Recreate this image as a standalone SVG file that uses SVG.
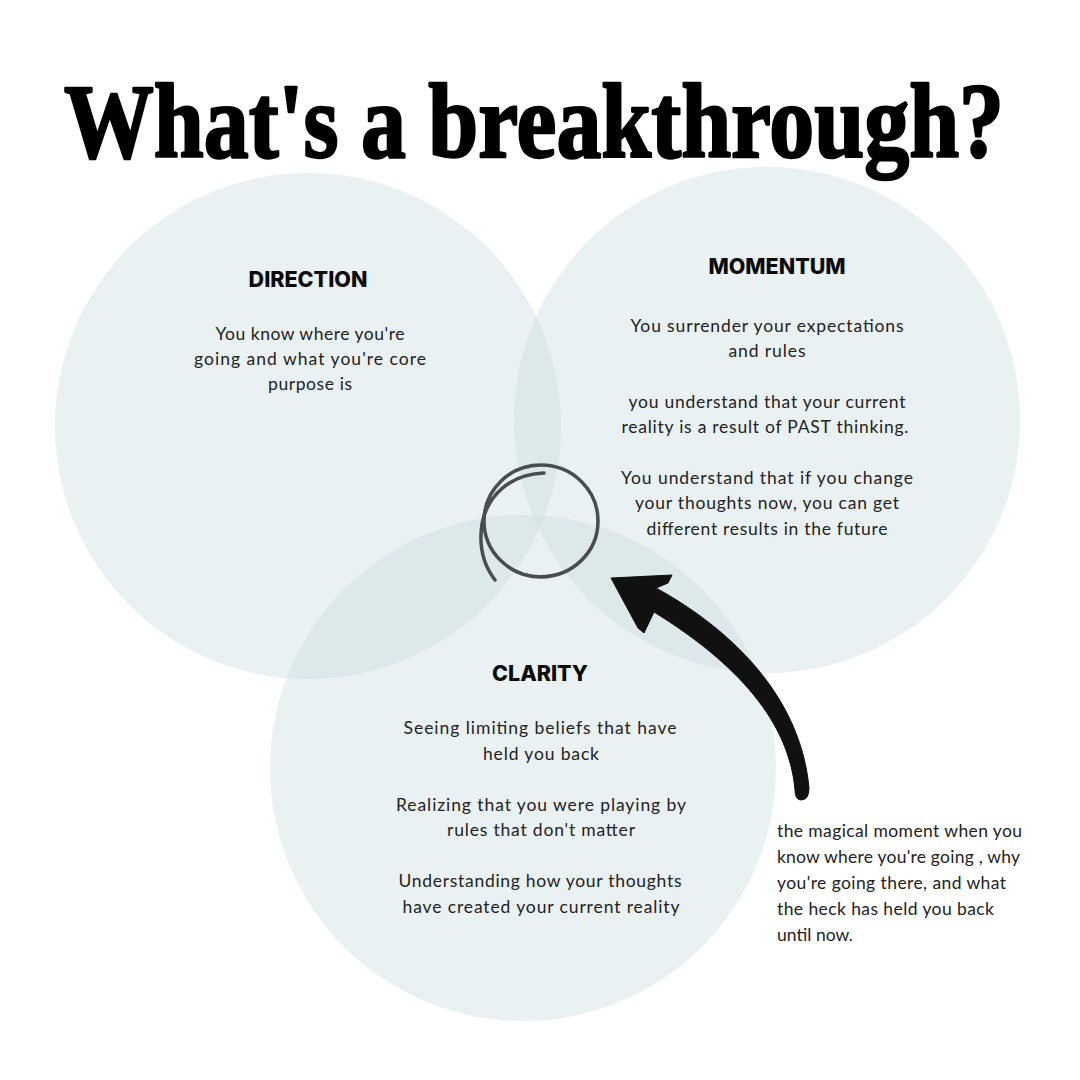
<svg xmlns="http://www.w3.org/2000/svg" width="1080" height="1080" viewBox="0 0 1080 1080">
<style>
.disc{fill:#c6d8da;fill-opacity:0.36}
.head{font-family:"Inter","Liberation Sans",sans-serif;font-weight:800;font-size:21.5px;fill:#0a0a0a;text-anchor:middle}
.body{font-family:"Lato","Liberation Sans",sans-serif;font-size:17.5px;fill:#222;text-anchor:middle}
.note{font-family:"Lato","Liberation Sans",sans-serif;font-size:17.5px;fill:#222}
.title{font-family:"Liberation Serif","DejaVu Serif",serif;font-weight:bold;font-size:106px;fill:#000;stroke:#000;stroke-width:2.5;stroke-linejoin:round}
</style>
<rect width="1080" height="1080" fill="#fff"/>
<g id="title">
<text class="title" x="64" y="157" textLength="940" lengthAdjust="spacingAndGlyphs">What's a breakthrough?</text>
</g>
<g id="direction">
<circle class="disc" cx="308" cy="426" r="253"/>
<text class="head" x="308" y="287">DIRECTION</text>
<text class="body" x="310" y="340" textLength="189" lengthAdjust="spacing">You know where you're</text>
<text class="body" x="310" y="365" textLength="232" lengthAdjust="spacing">going and what you're core</text>
<text class="body" x="310" y="390" textLength="84" lengthAdjust="spacing">purpose is</text>
</g>
<g id="momentum">
<circle class="disc" cx="767" cy="420" r="253"/>
<text class="head" x="777" y="274">MOMENTUM</text>
<text class="body" x="767" y="332" textLength="273" lengthAdjust="spacing">You surrender your expectations</text>
<text class="body" x="767" y="357" textLength="77" lengthAdjust="spacing">and rules</text>
<text class="body" x="767" y="408" textLength="277" lengthAdjust="spacing">you understand that your current</text>
<text class="body" x="765" y="433" textLength="287" lengthAdjust="spacing">reality is a result of PAST thinking.</text>
<text class="body" x="767" y="484" textLength="292" lengthAdjust="spacing">You understand that if you change</text>
<text class="body" x="767" y="509" textLength="264" lengthAdjust="spacing">your thoughts now, you can get</text>
<text class="body" x="767" y="535" textLength="241" lengthAdjust="spacing">different results in the future</text>
</g>
<g id="clarity">
<circle class="disc" cx="523" cy="768" r="253"/>
<text class="head" x="540" y="681">CLARITY</text>
<text class="body" x="540" y="734" textLength="273" lengthAdjust="spacing">Seeing limiting beliefs that have</text>
<text class="body" x="541" y="760" textLength="116" lengthAdjust="spacing">held you back</text>
<text class="body" x="541" y="811" textLength="290" lengthAdjust="spacing">Realizing that you were playing by</text>
<text class="body" x="541" y="836" textLength="188" lengthAdjust="spacing">rules that don't matter</text>
<text class="body" x="540" y="887" textLength="283" lengthAdjust="spacing">Understanding how your thoughts</text>
<text class="body" x="541" y="913" textLength="277" lengthAdjust="spacing">have created your current reality</text>
</g>
<g id="breakthrough-mark" fill="none" stroke="#4a4d4f" stroke-linecap="round">
<ellipse cx="541" cy="521" rx="57" ry="56" stroke-width="3.5"/>
<path d="M598,519 C598,552 572,576 540,576 C515,576 494,560 487,538" stroke-width="2"/>
<path d="M544,473 C510,474 487,496 482,524 C478,550 485,567 495,580" stroke-width="3.5"/>
</g>
<g id="note">
<text class="note" x="777" y="837" textLength="245" lengthAdjust="spacing">the magical moment when you</text>
<text class="note" x="777" y="863" textLength="243" lengthAdjust="spacing">know where you're going , why</text>
<text class="note" x="777" y="889" textLength="229" lengthAdjust="spacing">you're going there, and what</text>
<text class="note" x="777" y="915" textLength="217" lengthAdjust="spacing">the heck has held you back</text>
<text class="note" x="777" y="941" textLength="76" lengthAdjust="spacing">until now.</text>
</g>
<g id="connectors">
<path d="M611,578 L672,575 L668,583 L656,588 C722,624 800,690 809,788 Q809,800 801,800 Q795,800 795,790 C789,722 738,664 654,612 L644,633 L638,628 Z" fill="#111" stroke="#111" stroke-width="1" stroke-linejoin="round"/>
</g>
</svg>
